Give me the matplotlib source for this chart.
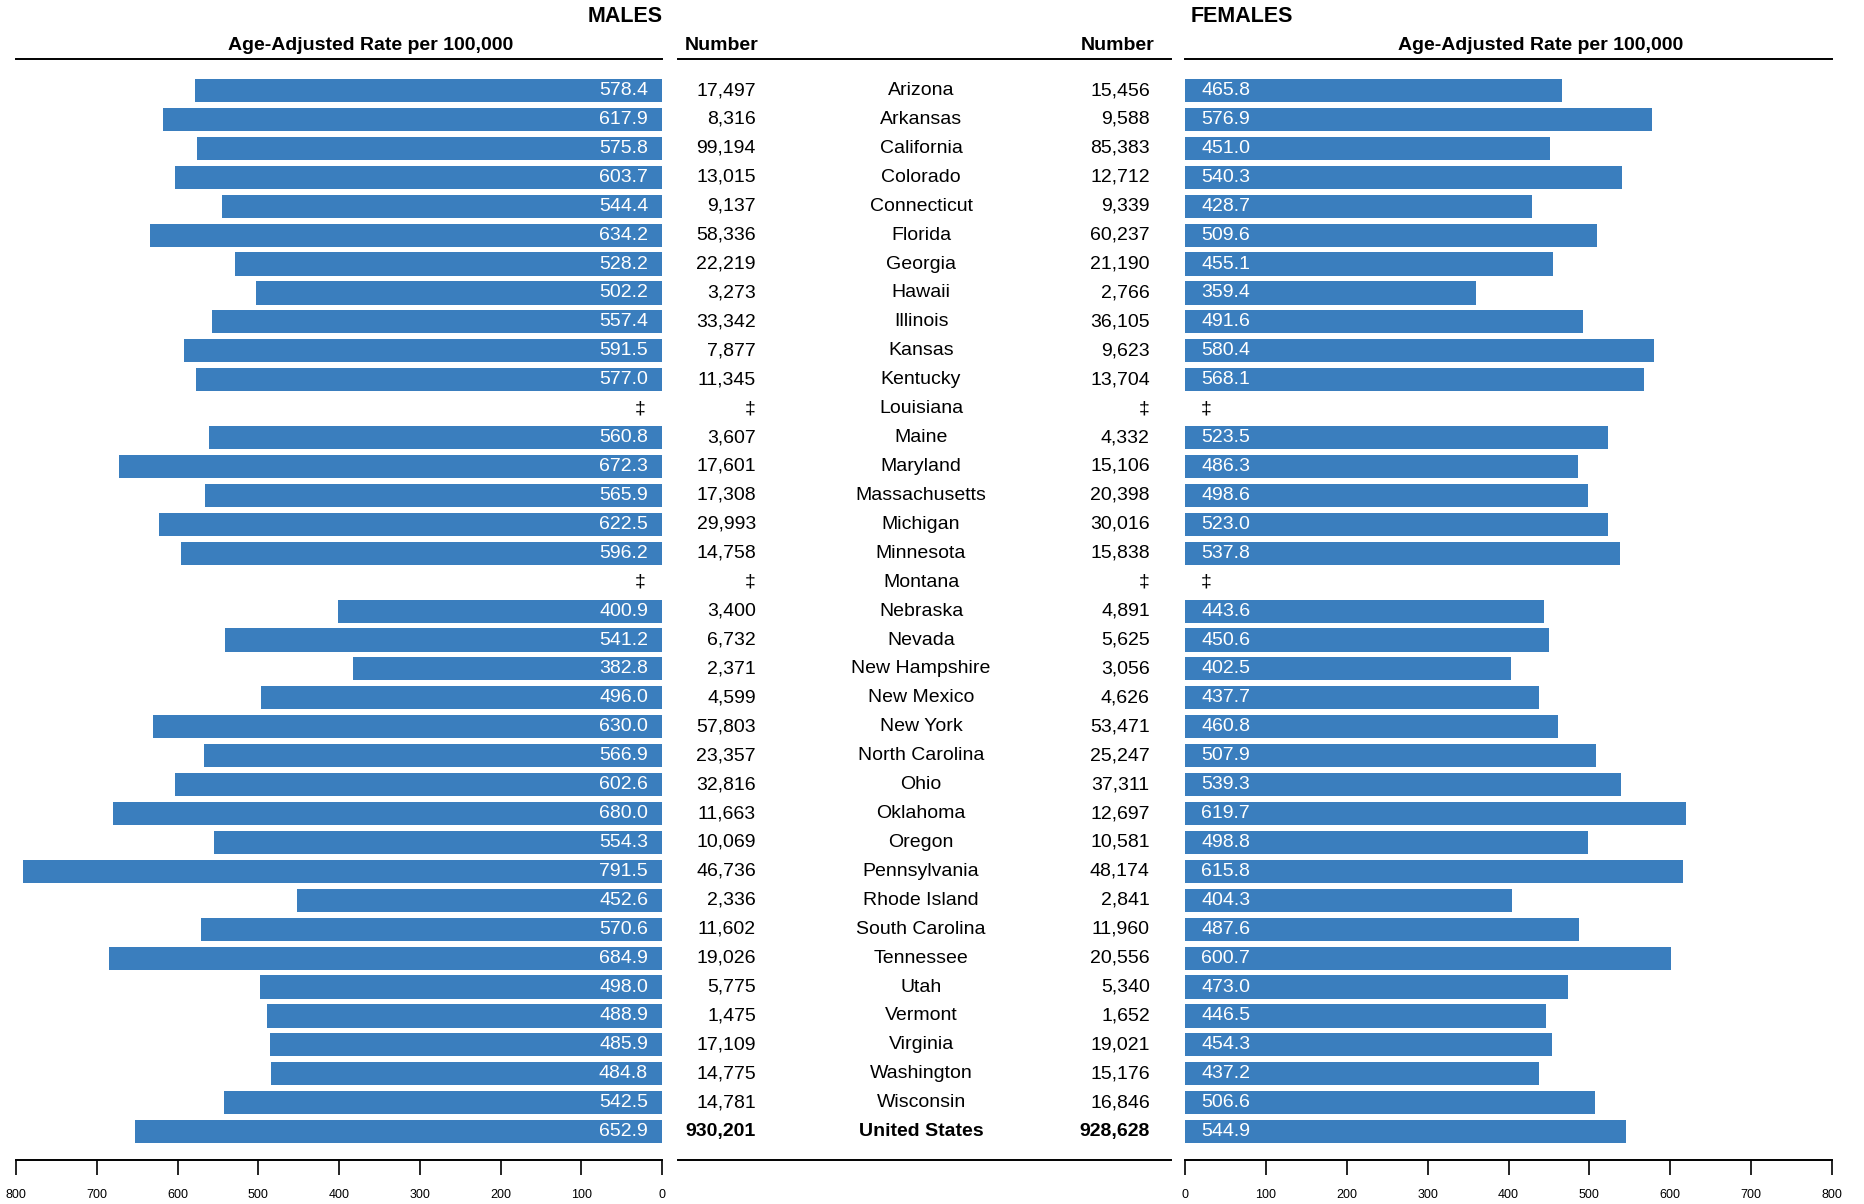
import matplotlib.pyplot as plt

plt.rcParams['font.family'] = ['Liberation Sans', 'DejaVu Sans']

# data (None = suppressed, shown as ‡)
states = ['Arizona', 'Arkansas', 'California', 'Colorado', 'Connecticut', 'Florida',
          'Georgia', 'Hawaii', 'Illinois', 'Kansas', 'Kentucky', 'Louisiana', 'Maine',
          'Maryland', 'Massachusetts', 'Michigan', 'Minnesota', 'Montana', 'Nebraska',
          'Nevada', 'New Hampshire', 'New Mexico', 'New York', 'North Carolina', 'Ohio',
          'Oklahoma', 'Oregon', 'Pennsylvania', 'Rhode Island', 'South Carolina',
          'Tennessee', 'Utah', 'Vermont', 'Virginia', 'Washington', 'Wisconsin',
          'United States']
male_rate = [578.4, 617.9, 575.8, 603.7, 544.4, 634.2, 528.2, 502.2, 557.4, 591.5, 577.0,
             None, 560.8, 672.3, 565.9, 622.5, 596.2, None, 400.9, 541.2, 382.8, 496.0,
             630.0, 566.9, 602.6, 680.0, 554.3, 791.5, 452.6, 570.6, 684.9, 498.0, 488.9,
             485.9, 484.8, 542.5, 652.9]
male_num = [17497, 8316, 99194, 13015, 9137, 58336, 22219, 3273, 33342, 7877, 11345,
            None, 3607, 17601, 17308, 29993, 14758, None, 3400, 6732, 2371, 4599, 57803,
            23357, 32816, 11663, 10069, 46736, 2336, 11602, 19026, 5775, 1475, 17109,
            14775, 14781, 930201]
female_num = [15456, 9588, 85383, 12712, 9339, 60237, 21190, 2766, 36105, 9623, 13704,
              None, 4332, 15106, 20398, 30016, 15838, None, 4891, 5625, 3056, 4626, 53471,
              25247, 37311, 12697, 10581, 48174, 2841, 11960, 20556, 5340, 1652, 19021,
              15176, 16846, 928628]
female_rate = [465.8, 576.9, 451.0, 540.3, 428.7, 509.6, 455.1, 359.4, 491.6, 580.4, 568.1,
               None, 523.5, 486.3, 498.6, 523.0, 537.8, None, 443.6, 450.6, 402.5, 437.7,
               460.8, 507.9, 539.3, 619.7, 498.8, 615.8, 404.3, 487.6, 600.7, 473.0, 446.5,
               454.3, 437.2, 506.6, 544.9]
ticks = [0, 100, 200, 300, 400, 500, 600, 700, 800]

W, H = 1864, 1204
BLUE = '#3a7ebe'
FS = 14
fig = plt.figure(figsize=(W / 100, H / 100), dpi=100)


def px_axes(x0, x1, ytop, ybot):
    return fig.add_axes([x0 / W, 1 - ybot / H, (x1 - x0) / W, (ybot - ytop) / H])


n = len(states)
ylim = (n - 1 + 0.98, -1.09)
ytop, ybot = 59, 1160

axm = px_axes(16, 662, ytop, ybot)
axc = px_axes(678, 1171, ytop, ybot)
axf = px_axes(1185, 1832, ytop, ybot)

for ax in (axm, axc, axf):
    ax.set_ylim(*ylim)
    ax.set_yticks([])
    for s in ('left', 'right'):
        ax.spines[s].set_visible(False)
    for s in ('top', 'bottom'):
        ax.spines[s].set_linewidth(1.4)

# males
axm.set_xlim(800, 0)
for i, v in enumerate(male_rate):
    if v is None:
        axm.text(20, i, '‡', ha='right', va='center', fontsize=FS, color='black')
        continue
    axm.barh(i, v, height=0.8, color=BLUE)
    axm.text(14 / 0.8075, i, f'{v:.1f}', ha='right', va='center', fontsize=FS, color='white')

# females
axf.set_xlim(0, 800)
for i, v in enumerate(female_rate):
    if v is None:
        axf.text(20, i, '‡', ha='left', va='center', fontsize=FS, color='black')
        continue
    axf.barh(i, v, height=0.8, color=BLUE)
    axf.text(20, i, f'{v:.1f}', ha='left', va='center', fontsize=FS, color='white')

for ax in (axm, axf):
    ax.set_xticks(ticks)
    ax.set_xticklabels([str(t) for t in ticks], fontsize=9)
    ax.tick_params(axis='x', direction='out', length=11, width=1.2, pad=10)

# center table
axc.set_xlim(0, 1)
axc.set_xticks([])
for i, name in enumerate(states):
    weight = 'bold' if name == 'United States' else 'normal'
    mn = '‡' if male_num[i] is None else f'{male_num[i]:,}'
    fn = '‡' if female_num[i] is None else f'{female_num[i]:,}'
    axc.text(0.158, i, mn, ha='right', va='center', fontsize=FS, fontweight=weight)
    axc.text(0.493, i, name, ha='center', va='center', fontsize=FS, fontweight=weight)
    axc.text(0.957, i, fn, ha='right', va='center', fontsize=FS, fontweight=weight)

# headers
def ftext(x, y, s, **kw):
    fig.text(x / W, 1 - y / H, s, va='center', **kw)

ftext(663, 16, 'MALES', ha='right', fontsize=15.5, fontweight='heavy')
ftext(1191, 16, 'FEMALES', ha='left', fontsize=15.5, fontweight='heavy')
ftext(371, 46, 'Age-Adjusted Rate per 100,000', ha='center', fontsize=14, fontweight='bold')
ftext(1541, 46, 'Age-Adjusted Rate per 100,000', ha='center', fontsize=14, fontweight='bold')
ftext(759, 46, 'Number', ha='right', fontsize=14, fontweight='bold')
ftext(1155, 46, 'Number', ha='right', fontsize=14, fontweight='bold')

fig.savefig('out.png', dpi=100)
